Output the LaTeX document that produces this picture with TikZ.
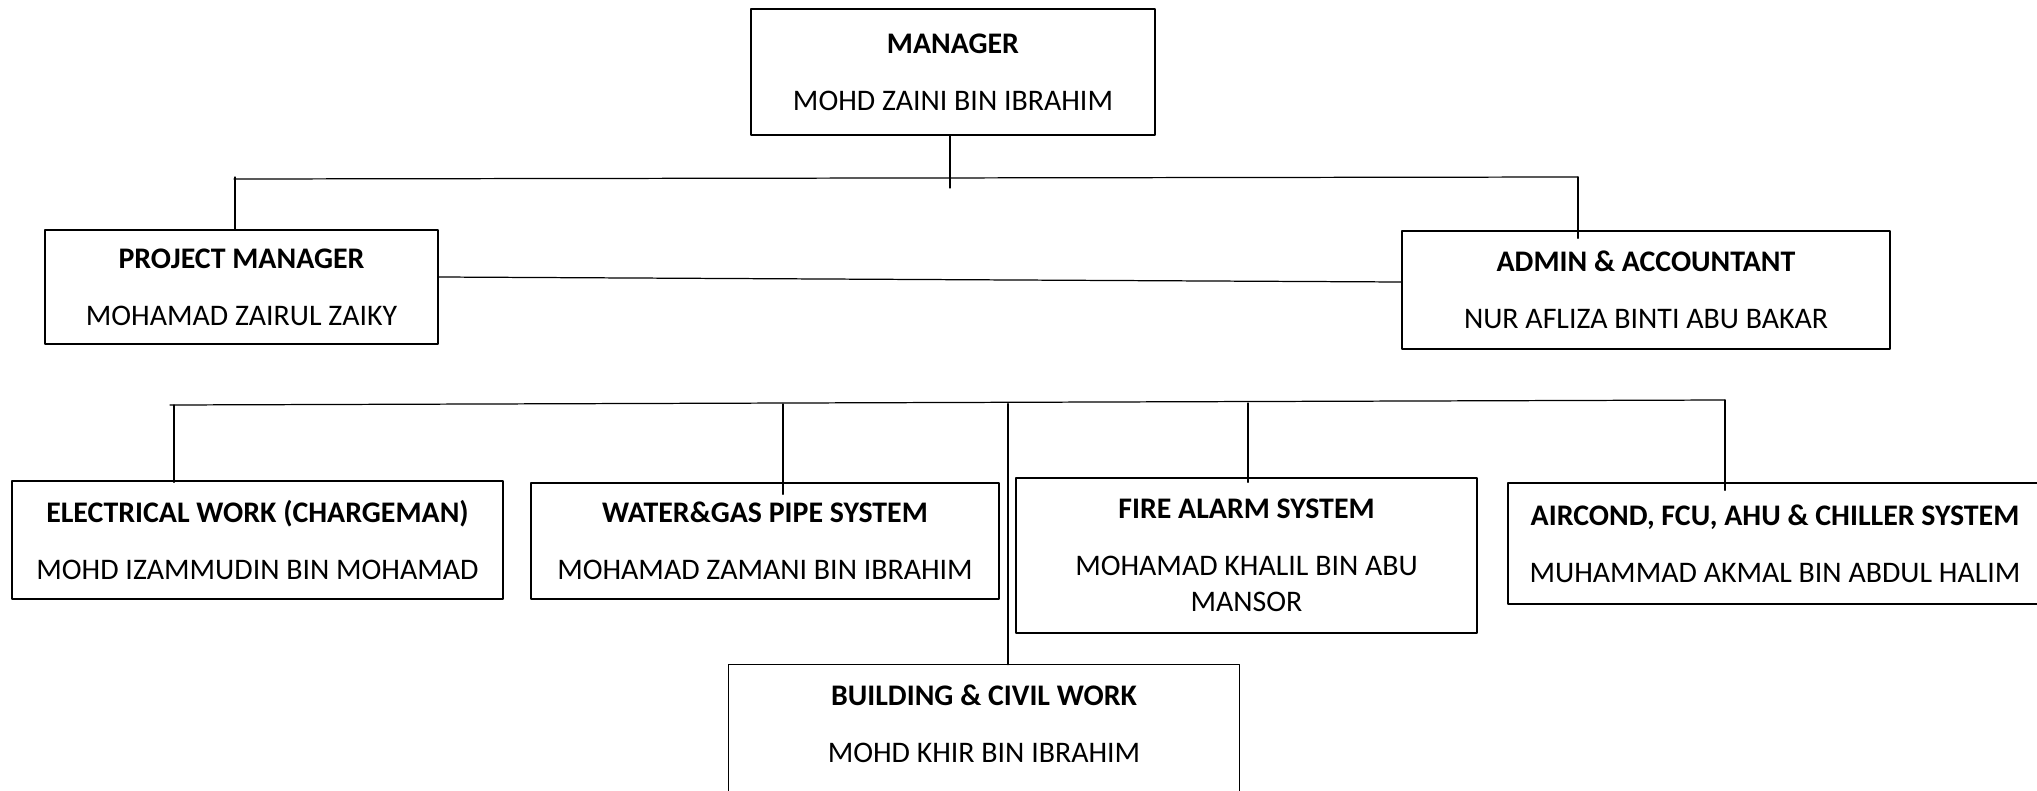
\documentclass[tikz,border=0pt]{standalone}
\usepackage{fontspec}
\setmainfont{Carlito}
\usetikzlibrary{calc}

\begin{document}
\begin{tikzpicture}[line cap=round,line join=round,x=1.0cm,y=1.0cm,
  box/.style={draw=black,line width=0.4pt,align=center,inner sep=0pt,
    font=\fontsize{8.5}{10.4}\selectfont},
  link/.style={draw=black,line width=0.35pt}]
\useasboundingbox (0,0) rectangle (20.37,7.90);
\clip (0,0) rectangle (20.37,7.90);

% boxes
\node[box,minimum width=4.04cm,minimum height=1.26cm] (mgr) at (9.53,7.18)
  {\textbf{MANAGER}\\[5.8pt]MOHD ZAINI BIN IBRAHIM};
\node[box,minimum width=3.93cm,minimum height=1.14cm] (pm) at (2.415,5.03)
  {\textbf{PROJECT MANAGER}\\[5.8pt]MOHAMAD ZAIRUL ZAIKY};
\node[box,minimum width=4.88cm,minimum height=1.18cm] (adm) at (16.46,5.00)
  {\textbf{ADMIN \& ACCOUNTANT}\\[5.8pt]NUR AFLIZA BINTI ABU BAKAR};

\node[box,minimum width=4.91cm,minimum height=1.18cm] (elec) at (2.575,2.50)
  {\textbf{ELECTRICAL WORK (CHARGEMAN)}\\[5.8pt]MOHD IZAMMUDIN BIN MOHAMAD};
\node[box,minimum width=4.68cm,minimum height=1.16cm] (water) at (7.65,2.49)
  {\textbf{WATER\&GAS PIPE SYSTEM}\\[5.8pt]MOHAMAD ZAMANI BIN IBRAHIM};
\node[box,minimum width=4.61cm,minimum height=1.55cm] (fire) at (12.465,2.345)
  {\textbf{FIRE ALARM SYSTEM}\\[5.8pt]MOHAMAD KHALIL BIN ABU\\MANSOR};
\node[box,minimum width=5.34cm,minimum height=1.21cm] (air) at (17.75,2.465)
  {\textbf{AIRCOND, FCU, AHU \& CHILLER SYSTEM}\\[5.8pt]MUHAMMAD AKMAL BIN ABDUL HALIM};
\node[box,draw=none,minimum width=5.10cm,minimum height=1.17cm] (bld) at (9.84,0.665)
  {\textbf{BUILDING \& CIVIL WORK}\\[5.8pt]MOHD KHIR BIN IBRAHIM};
\draw[line width=0.4pt] (bld.north west) rectangle ($(bld.south east)+(0,-0.4)$);

% top level
\coordinate (T1) at (2.34,6.11);
\coordinate (T2) at (15.78,6.13);
\coordinate (M1) at (9.50,6.02);
\coordinate (P1) at (2.35,6.13);
\draw[link] (T1) -- (T2);
\draw[link] ($(mgr.south)+(-0.03,0)$) -- (M1);
\draw[link] (P1) -- (P1 |- pm.north);
\draw[link] (T2) -- ($(T2 |- adm.north)+(0,-0.08)$);
\draw[link] ([yshift=1mm]pm.east) -- ([yshift=0.8mm]adm.west);

% second level
\coordinate (B1) at (1.70,3.85);
\coordinate (B2) at (17.25,3.90);
\coordinate (E1) at (1.74,3.85);
\coordinate (W1) at (7.83,3.86);
\coordinate (C1) at (10.08,3.86);
\coordinate (F1) at (12.48,3.87);
\draw[link] (B1) -- (B2);
\draw[link] (E1) -- ($(E1 |- elec.north)+(0,-0.02)$);
\draw[link] (W1) -- ($(W1 |- water.north)+(0,-0.12)$);
\draw[line width=0.6pt] (C1) -- (C1 |- bld.north);
\draw[link] (F1) -- ($(F1 |- fire.north)+(0,-0.05)$);
\draw[link] (B2) -- ($(B2 |- air.north)+(0,-0.08)$);
\end{tikzpicture}
\end{document}
